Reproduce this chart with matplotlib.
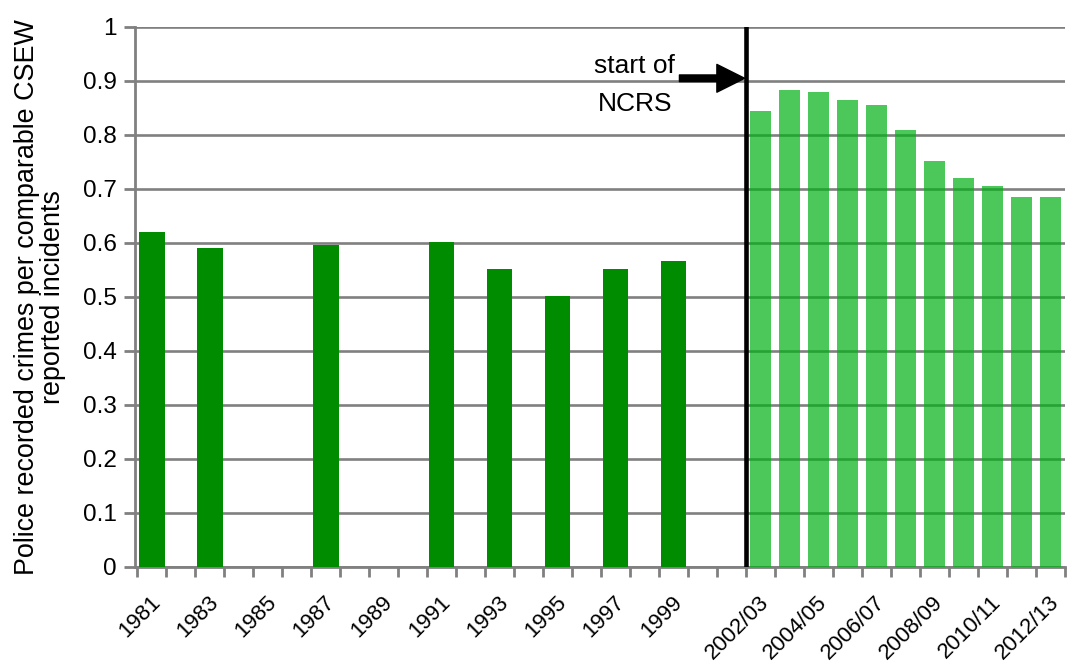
import numpy as np
import matplotlib
matplotlib.use('Agg')
import matplotlib.pyplot as plt
from matplotlib.patches import FancyArrowPatch
from matplotlib.transforms import ScaledTranslation

plt.rcParams['font.family'] = ['Liberation Sans', 'DejaVu Sans']

# ---------------- data ----------------
categories = ['1981', '1982', '1983', '1984', '1985', '1986', '1987', '1988', '1989', '1990',
              '1991', '1992', '1993', '1994', '1995', '1996', '1997', '1998', '1999', '2000',
              '2001/02', '2002/03', '2003/04', '2004/05', '2005/06', '2006/07', '2007/08',
              '2008/09', '2009/10', '2010/11', '2011/12', '2012/13']

tick_labels = ['1981', '', '1983', '', '1985', '', '1987', '', '1989', '',
               '1991', '', '1993', '', '1995', '', '1997', '', '1999', '',
               '', '2002/03', '', '2004/05', '', '2006/07', '',
               '2008/09', '', '2010/11', '', '2012/13']

nan = np.nan
pre_ncrs = [0.621, nan, 0.591, nan, nan, nan, 0.596, nan, nan, nan,
            0.601, nan, 0.552, nan, 0.502, nan, 0.551, nan, 0.566, nan, nan]
post_ncrs = [0.845, 0.883, 0.879, 0.864, 0.855, 0.809, 0.751, 0.720, 0.705, 0.686, 0.686]

y_ticks = [0, 0.1, 0.2, 0.3, 0.4, 0.5, 0.6, 0.7, 0.8, 0.9, 1.0]
y_tick_labels = ['0', '0.1', '0.2', '0.3', '0.4', '0.5', '0.6', '0.7', '0.8', '0.9', '1']

# ---------------- figure ----------------
fig = plt.figure(figsize=(10.68, 6.65), dpi=100)
ax = fig.add_axes([0.1264, 0.1474, 0.8708, 0.812])

x = np.arange(len(categories))
n_pre = len(pre_ncrs)
ax.bar(x[:n_pre], pre_ncrs, width=0.88, color='#008c00', zorder=3)
ax.bar(x[n_pre:], post_ncrs, width=0.72, color=(0.0, 0.69, 0.08), alpha=0.7, zorder=3)

ax.set_xlim(-0.58, len(categories) - 0.5)
ax.set_ylim(0, 1)

grey = '#808080'
ax.set_axisbelow(True)
ax.yaxis.grid(True, color=grey, lw=1.9)
for s in ['top', 'right']:
    ax.spines[s].set_visible(False)
for s in ['left', 'bottom']:
    ax.spines[s].set_color(grey)
    ax.spines[s].set_linewidth(2)

ax.set_yticks(y_ticks)
ax.set_yticklabels(y_tick_labels)
ax.tick_params(axis='y', direction='out', length=8, width=2, color=grey, pad=5, labelsize=17.5)

ax.set_xticks(x)
ax.set_xticks(np.arange(-0.5, len(categories), 1), minor=True)
ax.tick_params(axis='x', which='minor', direction='out', length=7, width=2, color=grey)
ax.tick_params(axis='x', which='major', length=0, pad=18, labelsize=16)
ax.set_xticklabels(tick_labels, rotation=45, ha='right', va='top', rotation_mode='anchor')
offset = ScaledTranslation(-2 / 100, 0, fig.dpi_scale_trans)
for lab in ax.get_xticklabels():
    lab.set_transform(lab.get_transform() + offset)

ax.set_ylabel('Police recorded crimes per comparable CSEW\nreported incidents', fontsize=19.4,
              linespacing=1.0)
ax.yaxis.set_label_coords(-0.074, 0.5)

# NCRS marker
ax.axvline(n_pre - 0.5, ymin=0, ymax=1, color='black', lw=3.3, zorder=6)
arrow = FancyArrowPatch(posA=(18.2, 0.905), posB=(n_pre - 0.55, 0.905),
                        arrowstyle='simple,head_length=1,head_width=1,tail_width=0.24',
                        mutation_scale=20, color='black', shrinkA=0, shrinkB=0, zorder=7)
ax.add_patch(arrow)
ax.text(16.66, 0.915, 'start of', ha='center', va='baseline', fontsize=19)
ax.text(16.66, 0.844, 'NCRS', ha='center', va='baseline', fontsize=19)

fig.savefig('out.png', dpi=100)
